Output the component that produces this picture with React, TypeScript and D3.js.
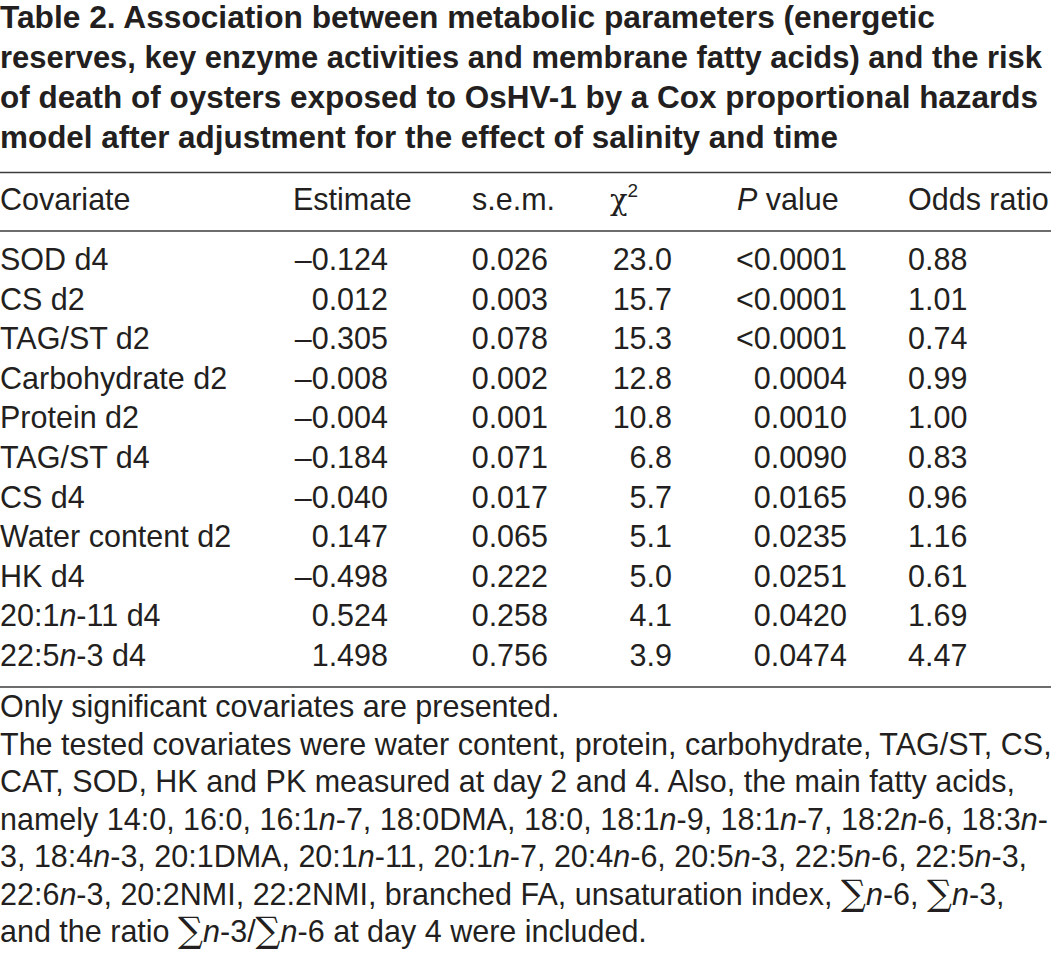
import React from "react";
import * as d3 from "d3";

const titleLines = [
  "Table 2. Association between metabolic parameters (energetic",
  "reserves, key enzyme activities and membrane fatty acids) and the risk",
  "of death of oysters exposed to OsHV-1 by a Cox proportional hazards",
  "model after adjustment for the effect of salinity and time",
];

const covariates = [
  "SOD d4",
  "CS d2",
  "TAG/ST d2",
  "Carbohydrate d2",
  "Protein d2",
  "TAG/ST d4",
  "CS d4",
  "Water content d2",
  "HK d4",
  "20:1_n_-11 d4",
  "22:5_n_-3 d4",
];
const estimates = [-0.124, 0.012, -0.305, -0.008, -0.004, -0.184, -0.04, 0.147, -0.498, 0.524, 1.498];
const sems = [0.026, 0.003, 0.078, 0.002, 0.001, 0.071, 0.017, 0.065, 0.222, 0.258, 0.756];
const chiSquares = [23.0, 15.7, 15.3, 12.8, 10.8, 6.8, 5.7, 5.1, 5.0, 4.1, 3.9];
const pValues = ["<0.0001", "<0.0001", "<0.0001", "0.0004", "0.0010", "0.0090", "0.0165", "0.0235", "0.0251", "0.0420", "0.0474"];
const oddsRatios = [0.88, 1.01, 0.74, 0.99, 1.0, 0.83, 0.96, 1.16, 0.61, 1.69, 4.47];

const footnoteLines = [
  "Only significant covariates are presented.",
  "The tested covariates were water content, protein, carbohydrate, TAG/ST, CS,",
  "CAT, SOD, HK and PK measured at day 2 and 4. Also, the main fatty acids,",
  "namely 14:0, 16:0, 16:1_n_-7, 18:0DMA, 18:0, 18:1_n_-9, 18:1_n_-7, 18:2_n_-6, 18:3_n_-",
  "3, 18:4_n_-3, 20:1DMA, 20:1_n_-11, 20:1_n_-7, 20:4_n_-6, 20:5_n_-3, 22:5_n_-6, 22:5_n_-3,",
  "22:6_n_-3, 20:2NMI, 22:2NMI, branched FA, unsaturation index, ∑_n_-6, ∑_n_-3,",
  "and the ratio ∑_n_-3/∑_n_-6 at day 4 were included.",
];

const W = 1051;
const H = 967;
const FONT = "'Liberation Sans', Arial, Helvetica, sans-serif";
const SERIF = "'DejaVu Serif', 'Liberation Serif', serif";
const INK = "#231f20";
const RULE = "#3c3c3c";

// measured right ends of the title lines in the reference
const titleWidths = [935, 1042, 1038, 838];

const fmt3 = d3.format(".3f");
const fmt1 = d3.format(".1f");
const fmt2 = d3.format(".2f");
const fmtEst = (v: number) => (v < 0 ? "\u2013" + fmt3(-v) : fmt3(v));

function rich(s: string) {
  const parts = s.split(/(_n_|∑)/).filter((p) => p !== "");
  return parts.map((p, i) => {
    if (p === "_n_")
      return (
        <tspan key={i} fontStyle="italic">
          n
        </tspan>
      );
    if (p === "∑")
      return (
        <tspan key={i} fontFamily={SERIF} fontSize={35}>
          ∑
        </tspan>
      );
    return <tspan key={i}>{p}</tspan>;
  });
}

export default function App() {
  const yTitle = d3.scaleLinear().domain([0, titleLines.length - 1]).range([27.5, 147.5]);
  const yRow = d3.scaleLinear().domain([0, covariates.length - 1]).range([270, 666]);
  const yNote = d3.scaleLinear().domain([0, footnoteLines.length - 1]).range([717, 942]);

  const cols = [
    { x: 0, anchor: "start", get: (i: number) => rich(covariates[i]) },
    { x: 388, anchor: "end", get: (i: number) => fmtEst(estimates[i]) },
    { x: 548, anchor: "end", get: (i: number) => fmt3(sems[i]) },
    { x: 672, anchor: "end", get: (i: number) => fmt1(chiSquares[i]) },
    { x: 847, anchor: "end", get: (i: number) => pValues[i] },
    { x: 908, anchor: "start", get: (i: number) => fmt2(oddsRatios[i]) },
  ];

  const headerY = 210;

  return (
    <svg
      width={W}
      height={H}
      viewBox={`0 0 ${W} ${H}`}
      style={{ position: "absolute", left: 0, top: 0, background: "#fff" }}
      fontFamily={FONT}
      fill={INK}
    >
      <rect x={0} y={0} width={W} height={H} fill="#fff" />
      {titleLines.map((t, i) => (
        <text
          key={i}
          x={0}
          y={yTitle(i)}
          fontSize={31}
          fontWeight="bold"
          textLength={titleWidths[i]}
          lengthAdjust="spacingAndGlyphs"
        >
          {t}
        </text>
      ))}

      <line x1={0} x2={W} y1={172.5} y2={172.5} stroke={RULE} strokeWidth={1.6} />
      <g fontSize={30.5}>
        <text x={0} y={headerY}>Covariate</text>
        <text x={293} y={headerY}>Estimate</text>
        <text x={472} y={headerY}>s.e.m.</text>
        <text x={610} y={headerY}>
          <tspan fontFamily={SERIF} fontSize={29}>χ</tspan>
          <tspan fontSize={19} dy={-13}>2</tspan>
        </text>
        <text x={737} y={headerY}>
          <tspan fontStyle="italic">P</tspan> value
        </text>
        <text x={908} y={headerY}>Odds ratio</text>
      </g>
      <line x1={0} x2={W} y1={231} y2={231} stroke={RULE} strokeWidth={1.6} />

      <g fontSize={30.5}>
        {covariates.map((_, i) => (
          <g key={i}>
            {cols.map((c, j) => (
              <text key={j} x={c.x} y={yRow(i)} textAnchor={c.anchor as any}>
                {c.get(i)}
              </text>
            ))}
          </g>
        ))}
      </g>

      <line x1={0} x2={W} y1={687} y2={687} stroke={RULE} strokeWidth={1.6} />

      <g fontSize={30.5}>
        {footnoteLines.map((t, i) => (
          <text key={i} x={0} y={yNote(i)}>
            {rich(t)}
          </text>
        ))}
      </g>
    </svg>
  );
}
